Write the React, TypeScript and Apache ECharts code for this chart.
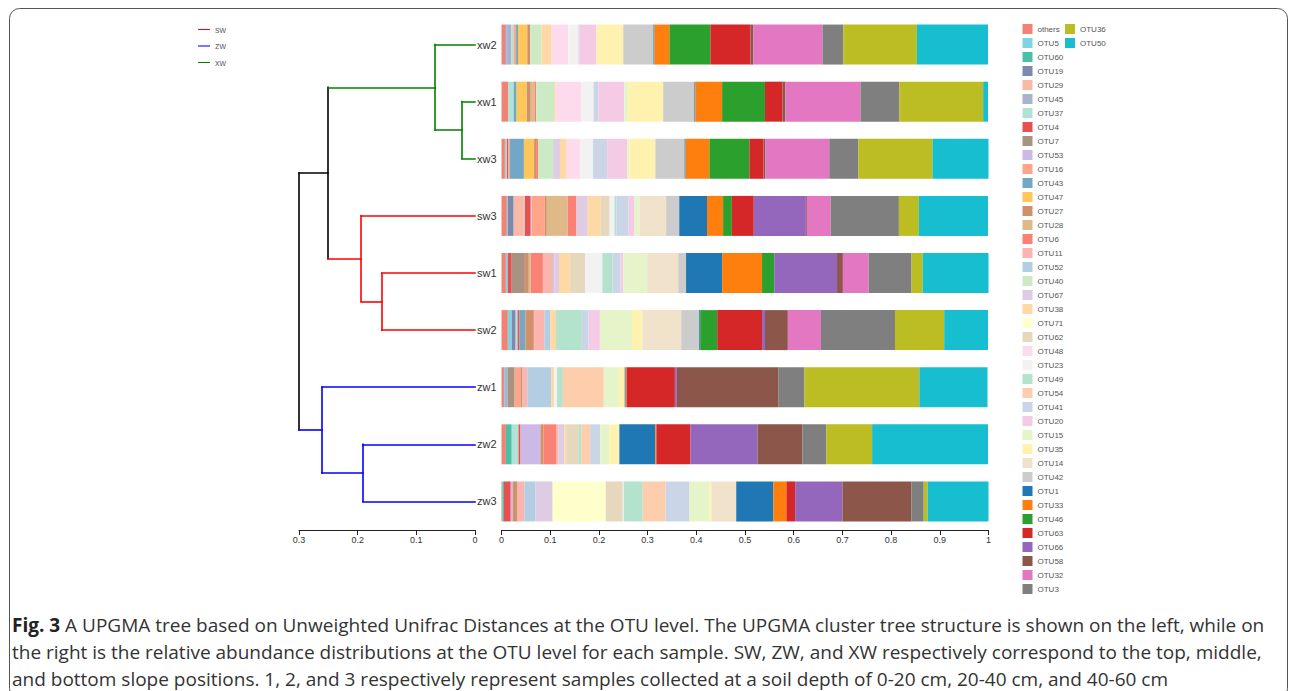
import React, { useEffect, useRef } from "react";
import * as echarts from "echarts";

// ---------- data ----------
const samples = ["xw2", "xw1", "xw3", "sw3", "sw1", "sw2", "zw1", "zw2", "zw3"];

const otuNames = [
  "others", "OTU5", "OTU60", "OTU19", "OTU29", "OTU45", "OTU37", "OTU4", "OTU7", "OTU53",
  "OTU16", "OTU43", "OTU47", "OTU27", "OTU28", "OTU6", "OTU11", "OTU52", "OTU40", "OTU67",
  "OTU38", "OTU71", "OTU62", "OTU48", "OTU23", "OTU49", "OTU54", "OTU41", "OTU20", "OTU15",
  "OTU35", "OTU14", "OTU42", "OTU1", "OTU33", "OTU46", "OTU63", "OTU66", "OTU58", "OTU32",
  "OTU3", "OTU36", "OTU50",
];

const otuColors = [
  "#f08373", "#80d3e3", "#4cbfa7", "#7b8aae", "#f8baa6", "#a9b3cb", "#b1e2d6", "#e84f50", "#a89282", "#cdb9e6",
  "#ffa58a", "#72a8c5", "#ffc75a", "#d09069", "#dfb988", "#fa8274", "#fbb4ae", "#b3cde3", "#ccebc5", "#decbe4",
  "#fed9a6", "#ffffcc", "#e5d8bd", "#fddaec", "#f2f2f2", "#b3e2cd", "#fdcdac", "#cbd5e8", "#f4cae4", "#e6f5c9",
  "#fff2ae", "#f1e2cc", "#cccccc", "#1f77b4", "#ff7f0e", "#2ca02c", "#d62728", "#9467bd", "#8c564b", "#e377c2",
  "#7f7f7f", "#bcbd22", "#17becf",
];

const abundXw2: [string, number][] = [
  ["others", 0.008], ["OTU19", 0.002], ["OTU45", 0.010], ["OTU37", 0.005], ["OTU16", 0.005],
  ["OTU43", 0.004], ["OTU47", 0.019], ["OTU27", 0.006], ["OTU40", 0.023], ["OTU38", 0.020],
  ["OTU48", 0.035], ["OTU23", 0.021], ["OTU41", 0.002], ["OTU20", 0.035], ["OTU35", 0.055],
  ["OTU42", 0.062], ["OTU1", 0.002], ["OTU33", 0.031], ["OTU46", 0.084], ["OTU63", 0.082],
  ["OTU58", 0.006], ["OTU32", 0.142], ["OTU3", 0.043], ["OTU36", 0.151], ["OTU50", 0.146],
];
const abundXw1: [string, number][] = [
  ["others", 0.014], ["OTU37", 0.011], ["OTU43", 0.006], ["OTU47", 0.021], ["OTU27", 0.008],
  ["OTU28", 0.008], ["OTU6", 0.003], ["OTU40", 0.037], ["OTU38", 0.003], ["OTU48", 0.053],
  ["OTU23", 0.025], ["OTU41", 0.010], ["OTU20", 0.053], ["OTU15", 0.008], ["OTU35", 0.072],
  ["OTU42", 0.064], ["OTU1", 0.002], ["OTU33", 0.055], ["OTU46", 0.088], ["OTU63", 0.036],
  ["OTU58", 0.006], ["OTU32", 0.154], ["OTU3", 0.080], ["OTU36", 0.172], ["OTU50", 0.010],
];
const abundXw3: [string, number][] = [
  ["others", 0.007], ["OTU5", 0.002], ["OTU37", 0.002], ["OTU4", 0.003], ["OTU16", 0.003],
  ["OTU43", 0.029], ["OTU47", 0.021], ["OTU27", 0.004], ["OTU6", 0.004], ["OTU40", 0.031],
  ["OTU67", 0.014], ["OTU38", 0.014], ["OTU48", 0.027], ["OTU23", 0.027], ["OTU41", 0.029],
  ["OTU20", 0.041], ["OTU15", 0.005], ["OTU35", 0.053], ["OTU42", 0.060], ["OTU1", 0.002],
  ["OTU33", 0.049], ["OTU46", 0.082], ["OTU63", 0.029], ["OTU58", 0.004], ["OTU32", 0.131],
  ["OTU3", 0.060], ["OTU36", 0.152], ["OTU50", 0.115],
];
const abundSw3: [string, number][] = [
  ["others", 0.011], ["OTU5", 0.002], ["OTU19", 0.012], ["OTU29", 0.021], ["OTU37", 0.002],
  ["OTU4", 0.012], ["OTU53", 0.002], ["OTU16", 0.027], ["OTU27", 0.004], ["OTU28", 0.043],
  ["OTU6", 0.018], ["OTU67", 0.023], ["OTU38", 0.027], ["OTU62", 0.018], ["OTU23", 0.010],
  ["OTU49", 0.004], ["OTU41", 0.025], ["OTU20", 0.012], ["OTU15", 0.010], ["OTU14", 0.055],
  ["OTU42", 0.027], ["OTU1", 0.057], ["OTU33", 0.033], ["OTU46", 0.018], ["OTU63", 0.045],
  ["OTU66", 0.107], ["OTU58", 0.002], ["OTU32", 0.049], ["OTU3", 0.140], ["OTU36", 0.041],
  ["OTU50", 0.142],
];
const abundSw1: [string, number][] = [
  ["others", 0.009], ["OTU5", 0.004], ["OTU4", 0.008], ["OTU7", 0.027], ["OTU27", 0.008],
  ["OTU28", 0.004], ["OTU6", 0.025], ["OTU11", 0.021], ["OTU52", 0.002], ["OTU67", 0.010],
  ["OTU38", 0.023], ["OTU62", 0.031], ["OTU23", 0.035], ["OTU49", 0.021], ["OTU41", 0.016],
  ["OTU20", 0.006], ["OTU15", 0.049], ["OTU14", 0.064], ["OTU42", 0.016], ["OTU1", 0.074],
  ["OTU33", 0.082], ["OTU46", 0.025], ["OTU66", 0.129], ["OTU58", 0.012], ["OTU32", 0.053],
  ["OTU3", 0.088], ["OTU36", 0.023], ["OTU50", 0.135],
];
const abundSw2: [string, number][] = [
  ["others", 0.013], ["OTU5", 0.008], ["OTU19", 0.008], ["OTU37", 0.004], ["OTU4", 0.004],
  ["OTU43", 0.012], ["OTU27", 0.016], ["OTU6", 0.002], ["OTU11", 0.021], ["OTU52", 0.012],
  ["OTU38", 0.012], ["OTU49", 0.053], ["OTU41", 0.014], ["OTU20", 0.023], ["OTU15", 0.066],
  ["OTU35", 0.021], ["OTU14", 0.080], ["OTU42", 0.037], ["OTU1", 0.002], ["OTU46", 0.035],
  ["OTU63", 0.092], ["OTU66", 0.006], ["OTU58", 0.047], ["OTU32", 0.068], ["OTU3", 0.152],
  ["OTU36", 0.101], ["OTU50", 0.090],
];
const abundZw1: [string, number][] = [
  ["others", 0.005], ["OTU5", 0.002], ["OTU45", 0.006], ["OTU7", 0.014], ["OTU16", 0.012],
  ["OTU27", 0.004], ["OTU11", 0.010], ["OTU52", 0.049], ["OTU38", 0.006], ["OTU23", 0.006],
  ["OTU49", 0.012], ["OTU54", 0.084], ["OTU15", 0.031], ["OTU35", 0.012], ["OTU1", 0.002],
  ["OTU33", 0.002], ["OTU63", 0.099], ["OTU66", 0.004], ["OTU58", 0.209], ["OTU3", 0.053],
  ["OTU36", 0.236], ["OTU50", 0.140],
];
const abundZw2: [string, number][] = [
  ["others", 0.009], ["OTU60", 0.012], ["OTU37", 0.014], ["OTU4", 0.004], ["OTU53", 0.041],
  ["OTU27", 0.006], ["OTU6", 0.027], ["OTU11", 0.004], ["OTU67", 0.012], ["OTU38", 0.004],
  ["OTU62", 0.025], ["OTU49", 0.006], ["OTU54", 0.018], ["OTU41", 0.021], ["OTU15", 0.018],
  ["OTU35", 0.021], ["OTU1", 0.074], ["OTU33", 0.002], ["OTU63", 0.070], ["OTU66", 0.138],
  ["OTU58", 0.092], ["OTU3", 0.049], ["OTU36", 0.094], ["OTU50", 0.238],
];
const abundZw3: [string, number][] = [
  ["others", 0.002], ["OTU60", 0.003], ["OTU4", 0.014], ["OTU53", 0.004], ["OTU27", 0.010],
  ["OTU11", 0.014], ["OTU52", 0.023], ["OTU67", 0.035], ["OTU71", 0.109], ["OTU62", 0.035],
  ["OTU23", 0.002], ["OTU49", 0.039], ["OTU54", 0.047], ["OTU41", 0.049], ["OTU15", 0.041],
  ["OTU35", 0.004], ["OTU14", 0.051], ["OTU1", 0.076], ["OTU33", 0.027], ["OTU63", 0.018],
  ["OTU66", 0.097], ["OTU58", 0.142], ["OTU3", 0.025], ["OTU36", 0.008], ["OTU50", 0.125],
];

const sampleAbundance = [
  abundXw2, abundXw1, abundXw3, abundSw3, abundSw1, abundSw2, abundZw1, abundZw2, abundZw3,
];

// UPGMA merges: [node, child1, child2, height, cluster]
const treeMerges: [string, string, string, number, string][] = [
  ["A", "xw1", "xw3", 0.022, "xw"],
  ["B", "xw2", "A", 0.068, "xw"],
  ["C", "sw1", "sw2", 0.1585, "sw"],
  ["D", "sw3", "C", 0.194, "sw"],
  ["E", "B", "D", 0.2506, "root"],
  ["F", "zw2", "zw3", 0.191, "zw"],
  ["G", "zw1", "F", 0.261, "zw"],
  ["H", "E", "G", 0.3, "root"],
];

const clusterNames = ["sw", "zw", "xw"];
const clusterColors: Record<string, string> = { sw: "#ff0000", zw: "#0000ff", xw: "#008000", root: "#000000" };
const legendLineColors = ["#ff0000", "#7a7aff", "#008000"];
const legendLineHeights = [1, 2, 1];

const barTicks = { min: 0, max: 1, interval: 0.1 };
const treeTicks = { min: 0, max: 0.3, interval: 0.1 };

const captionLines = [
  " A UPGMA tree based on Unweighted Unifrac Distances at the OTU level. The UPGMA cluster tree structure is shown on the left, while on",
  "the right is the relative abundance distributions at the OTU level for each sample. SW, ZW, and XW respectively correspond to the top, middle,",
  "and bottom slope positions. 1, 2, and 3 respectively represent samples collected at a soil depth of 0-20 cm, 20-40 cm, and 40-60 cm",
];

// ---------- helpers ----------
function buildTreeSegments() {
  const pos: Record<string, { x: number; y: number; c: string }> = {};
  samples.forEach((s, i) => {
    pos[s] = { x: 0, y: i, c: s.slice(0, 2) };
  });
  const segs: Record<string, number[][][]> = { sw: [], zw: [], xw: [], root: [] };
  treeMerges.forEach(([node, c1, c2, h, cl]) => {
    const p1 = pos[c1];
    const p2 = pos[c2];
    const y = (p1.y + p2.y) / 2;
    pos[node] = { x: h, y, c: cl };
    segs[cl].push([[h, p1.y], [h, p2.y]]);
    segs[p1.c].push([[h, p1.y], [p1.x, p1.y]]);
    segs[p2.c].push([[h, p2.y], [p2.x, p2.y]]);
  });
  return segs;
}

const FONT = "'Liberation Sans', Arial, sans-serif";
const CAP_FONT = "19px 'Open Sans', sans-serif";

export default function App() {
  const ref = useRef<HTMLDivElement>(null);
  useEffect(() => {
    const chart = echarts.init(ref.current!, null, { renderer: "svg" });
    const segs = buildTreeSegments();

    const barSeries = otuNames.map((name, i) => ({
      name,
      type: "bar",
      stack: "otu",
      xAxisIndex: 0,
      yAxisIndex: 0,
      barWidth: 40,
      silent: true,
      itemStyle: { color: otuColors[i] },
      data: sampleAbundance.map((list) => {
        const f = list.find((d) => d[0] === name);
        return f ? f[1] : 0;
      }),
    }));

    const treeSeries = ["root", ...clusterNames].map((cl) => ({
      name: cl,
      type: "lines",
      coordinateSystem: "cartesian2d",
      xAxisIndex: 1,
      yAxisIndex: 1,
      polyline: false,
      silent: true,
      lineStyle: { color: clusterColors[cl], width: 1.6, opacity: 1, cap: "square" },
      data: segs[cl].map((s) => ({ coords: s })),
    }));

    const otuLegendCommon = {
      orient: "vertical",
      top: 24,
      padding: 0,
      itemWidth: 10,
      itemHeight: 10,
      itemGap: 4,
      selectedMode: false,
      icon: "rect",
      textStyle: { fontSize: 8, color: "#555", lineHeight: 10, fontFamily: FONT },
    };

    const option: any = {
      animation: false,
      backgroundColor: "#ffffff",
      textStyle: { fontFamily: FONT },
      legend: [
        ...clusterNames.map((n, i) => ({
          orient: "vertical",
          left: 198,
          top: 24 + i * 16.5,
          padding: 0,
          itemWidth: 12,
          itemHeight: 11,
          selectedMode: false,
          icon: `path://M0,0 M0,${5.5 - legendLineHeights[i] / 2} L12,${5.5 - legendLineHeights[i] / 2} L12,${5.5 + legendLineHeights[i] / 2} L0,${5.5 + legendLineHeights[i] / 2} Z M12,11`,
          textStyle: { fontSize: 9, color: "#666", lineHeight: 11, fontFamily: FONT },
          data: [{ name: n, itemStyle: { color: legendLineColors[i], borderWidth: 0 } }],
        })),
        { ...otuLegendCommon, left: 1022.5, data: otuNames.slice(0, 41) },
        { ...otuLegendCommon, left: 1065, data: otuNames.slice(41) },
      ],
      grid: [
        { left: 501.5, top: 16, width: 487, height: 514 },
        { left: 299, top: 16, width: 176, height: 514 },
      ],
      xAxis: [
        {
          type: "value",
          gridIndex: 0,
          min: barTicks.min,
          max: barTicks.max,
          interval: barTicks.interval,
          axisLine: { show: true, lineStyle: { color: "#222", width: 1 } },
          axisTick: { show: true, length: 5, lineStyle: { color: "#222" } },
          axisLabel: { fontSize: 9, color: "#333", margin: 5, fontFamily: FONT },
          splitLine: { show: false },
        },
        {
          type: "value",
          gridIndex: 1,
          inverse: true,
          min: treeTicks.min,
          max: treeTicks.max,
          interval: treeTicks.interval,
          axisLine: { show: true, onZero: false, lineStyle: { color: "#222", width: 1 } },
          axisTick: { show: true, length: 5, lineStyle: { color: "#222" } },
          axisLabel: { fontSize: 9, color: "#333", margin: 5, fontFamily: FONT },
          splitLine: { show: false },
        },
      ],
      yAxis: [
        {
          type: "category",
          gridIndex: 0,
          inverse: true,
          data: samples,
          axisLine: { show: false },
          axisTick: { show: false },
          axisLabel: { fontSize: 11, color: "#333", margin: 5, fontFamily: FONT },
        },
        {
          type: "value",
          gridIndex: 1,
          inverse: true,
          min: -0.5,
          max: samples.length - 0.5,
          show: false,
        },
      ],
      series: [...barSeries, ...treeSeries],
      graphic: [
        {
          type: "rect",
          shape: { x: 9.5, y: 8.5, width: 1278, height: 690, r: 10 },
          style: { fill: "none", stroke: "#555", lineWidth: 1 },
          silent: true,
        },
        {
          type: "text",
          x: 12,
          y: 625,
          style: {
            text: "{b|Fig. 3}" + captionLines[0],
            font: CAP_FONT,
            fill: "#333",
            verticalAlign: "middle",
            rich: {
              b: { fontWeight: "bold", fontSize: 19, fontFamily: "'Open Sans', sans-serif", fill: "#222" },
            },
          },
          silent: true,
        },
        {
          type: "text",
          x: 12,
          y: 652,
          style: { text: captionLines[1], font: CAP_FONT, fill: "#333", verticalAlign: "middle" },
          silent: true,
        },
        {
          type: "text",
          x: 12,
          y: 679,
          style: { text: captionLines[2], font: CAP_FONT, fill: "#333", verticalAlign: "middle" },
          silent: true,
        },
      ],
    };

    chart.setOption(option);
    return () => chart.dispose();
  }, []);

  return (
    <div
      ref={ref}
      style={{ position: "absolute", left: 0, top: 0, width: 1290, height: 691, background: "#fff" }}
    />
  );
}
